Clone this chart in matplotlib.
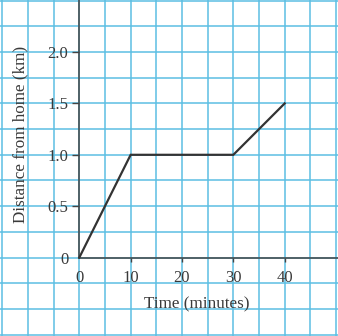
import matplotlib
matplotlib.use("Agg")
import matplotlib.pyplot as plt
import numpy as np

# Data
time_min = [0, 10, 30, 40]
distance_km = [0, 1.0, 1.0, 1.5]
x_ticks = [0, 10, 20, 30, 40]
x_tick_labels = ["0", "10", "20", "30", "40"]
y_ticks = [0, 0.5, 1.0, 1.5, 2.0]
y_tick_labels = ["0", "0.5", "1.0", "1.5", "2.0"]

plt.rcParams['font.family'] = ['Liberation Serif', 'DejaVu Serif']
txt = '#3a3a3a'
gridc = '#5cbfe3'

fig = plt.figure(figsize=(3.38, 3.36), dpi=100)
ax = fig.add_axes([0, 0, 1, 1])
xmin, xmax = -15.45, 50.39
ymin, ymax = -0.764, 2.507
ax.set_xlim(xmin, xmax)
ax.set_ylim(ymin, ymax)

for gx in np.arange(-15, 50.01, 5):
    ax.axvline(gx, color=gridc, lw=1.1, zorder=1)
for gy in np.arange(-0.75, 2.501, 0.25):
    ax.axhline(gy, color=gridc, lw=1.1, zorder=1)

ax.plot(time_min, distance_km, color='#333333', lw=1.6, zorder=3, solid_joinstyle='miter')

for s in ['top', 'right']:
    ax.spines[s].set_visible(False)
ax.spines['left'].set_position(('data', 0))
ax.spines['bottom'].set_position(('data', 0))
ax.spines['left'].set_bounds(0, ymax)
ax.spines['bottom'].set_bounds(0, xmax)
for s in ['left', 'bottom']:
    ax.spines[s].set_color('#444444')
    ax.spines[s].set_linewidth(1.1)
    ax.spines[s].set_zorder(2)

ax.set_xticks(x_ticks)
ax.set_xticklabels(x_tick_labels)
ax.set_yticks(y_ticks)
ax.set_yticklabels(y_tick_labels)
ax.tick_params(axis='x', direction='out', length=3, width=1, color='#444444',
               pad=6, labelsize=12, labelcolor=txt)
ax.tick_params(axis='y', direction='out', length=4.8, width=1, color='#444444',
               pad=3, labelsize=12, labelcolor=txt)
ax.xaxis.get_major_ticks()[0].tick1line.set_visible(False)
ax.yaxis.get_major_ticks()[0].tick1line.set_visible(False)

fig.text(20 / 338, 1 - 134 / 336, 'Distance from home (km)', rotation=90,
         ha='center', va='center', fontsize=12.3, color=txt)
fig.text(197 / 338, 1 - 304 / 336, 'Time (minutes)', ha='center', va='center',
         fontsize=12.3, color=txt)

fig.savefig('out.png', dpi=100)
